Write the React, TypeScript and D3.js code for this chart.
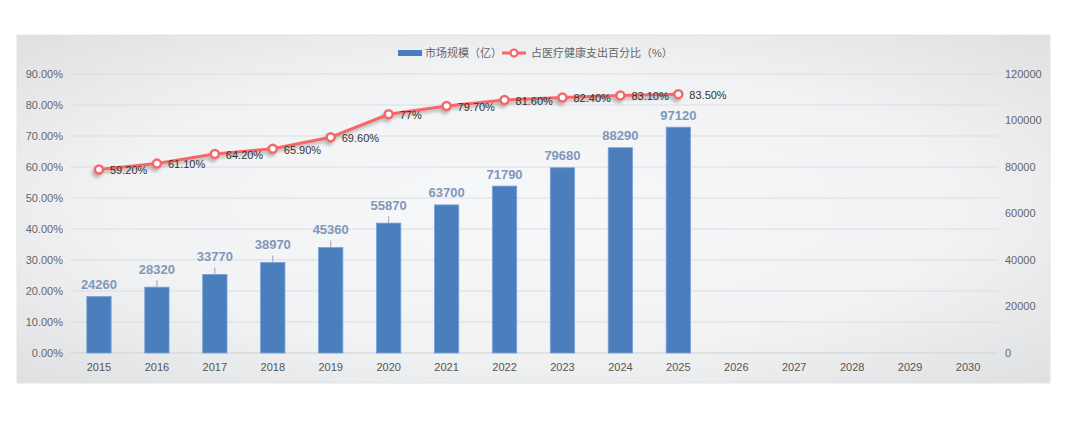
import React from "react";
import * as d3 from "d3";

const years = ["2015","2016","2017","2018","2019","2020","2021","2022","2023","2024","2025","2026","2027","2028","2029","2030"];
const marketSize = [24260, 28320, 33770, 38970, 45360, 55870, 63700, 71790, 79680, 88290, 97120];
const sharePct = [59.2, 61.1, 64.2, 65.9, 69.6, 77, 79.7, 81.6, 82.4, 83.1, 83.5];
const shareLabels = ["59.20%","61.10%","64.20%","65.90%","69.60%","77%","79.70%","81.60%","82.40%","83.10%","83.50%"];
const leftTicks = [0, 10, 20, 30, 40, 50, 60, 70, 80, 90];
const rightTicks = [0, 20000, 40000, 60000, 80000, 100000, 120000];
const leaderYears = ["2016","2017","2018","2019","2020"];
const legendBar = "市场规模（亿）";
const legendLine = "占医疗健康支出百分比（%）";

const FONT = "'Liberation Sans', Arial, 'Noto Sans CJK SC', sans-serif";

export default function App() {
  const W = 1080, H = 425;
  const left = 70, right = 997, top = 74, bottom = 353;
  const x = d3.scaleBand<string>().domain(years).range([left, right]).padding(0);
  const cx = (y: string) => (x(y) as number) + x.bandwidth() / 2;
  const yL = d3.scaleLinear().domain([0, 90]).range([bottom, top]);
  const yR = d3.scaleLinear().domain([0, 120000]).range([bottom, top]);
  const barW = x.bandwidth() * 0.42;
  const lineGen = d3.line<number>()
    .x((_, i) => cx(years[i]))
    .y((d) => yL(d));
  const red = "#f4686a";
  const blue = "#4a7ebd";

  return (
    <svg width={W} height={H} style={{ position: "absolute", left: 0, top: 0, fontFamily: FONT }}>
      <defs>
        <radialGradient id="bg" cx="50%" cy="50%" r="75%">
          <stop offset="0%" stopColor="#f7f8fa" />
          <stop offset="55%" stopColor="#f1f2f4" />
          <stop offset="100%" stopColor="#dcdddf" />
        </radialGradient>
        <filter id="shadow" x="-10%" y="-50%" width="120%" height="200%">
          <feDropShadow dx={-2} dy={3} stdDeviation={1.5} floodColor="#888" floodOpacity={0.55} />
        </filter>
      </defs>
      <rect x={0} y={0} width={W} height={H} fill="#ffffff" />
      <rect x={17} y={35} width={1033} height={348} fill="url(#bg)" stroke="#e4e4e6" strokeWidth={1} />

      {/* gridlines */}
      {leftTicks.map((t) => (
        <line key={"g" + t} x1={left} x2={right + 1} y1={yL(t)} y2={yL(t)}
          stroke={t === 0 ? "#cfd0d2" : "#dcdde0"} strokeWidth={1} />
      ))}

      {/* left axis labels */}
      {leftTicks.map((t) => (
        <text key={"l" + t} x={63} y={yL(t)} dy="0.35em" textAnchor="end" fontSize={11} fill="#666">
          {t.toFixed(2) + "%"}
        </text>
      ))}
      {/* right axis labels */}
      {rightTicks.map((t) => (
        <text key={"r" + t} x={1005} y={yR(t)} dy="0.35em" textAnchor="start" fontSize={11} fill="#666">
          {String(t)}
        </text>
      ))}
      {/* x axis labels */}
      {years.map((yv) => (
        <text key={"x" + yv} x={cx(yv)} y={367} dy="0.35em" textAnchor="middle" fontSize={11} fill="#555">
          {yv}
        </text>
      ))}

      {/* bars */}
      {marketSize.map((v, i) => {
        const yv = years[i];
        const yt = yR(v);
        return (
          <g key={"b" + yv}>
            <rect x={cx(yv) - barW / 2} y={yt} width={barW} height={bottom - yt}
              fill={blue} stroke="#7aa2d6" strokeWidth={0.8} />
            {leaderYears.includes(yv) && (
              <line x1={cx(yv)} x2={cx(yv)} y1={yt} y2={yt - 7} stroke="#9aa6b8" strokeWidth={1} />
            )}
            <text x={cx(yv)} y={yt - (leaderYears.includes(yv) ? 18 : 12)} dy="0.35em" textAnchor="middle"
              fontSize={13} fontWeight="bold" fill="#8197bb">
              {String(v)}
            </text>
          </g>
        );
      })}

      {/* line */}
      <g filter="url(#shadow)">
        <path d={lineGen(sharePct) || ""} fill="none" stroke={red} strokeWidth={3} />
        {sharePct.map((v, i) => (
          <circle key={"c" + i} cx={cx(years[i])} cy={yL(v)} r={4} fill="#fff" stroke={red} strokeWidth={2.5} />
        ))}
      </g>
      {sharePct.map((v, i) => (
        <text key={"t" + i} x={cx(years[i]) + 11} y={yL(v) + 1} dy="0.35em" textAnchor="start"
          fontSize={11} fill="#333">
          {shareLabels[i]}
        </text>
      ))}

      {/* legend */}
      <rect x={398} y={50} width={24} height={6} fill={blue} />
      <text x={425} y={53} dy="0.35em" fontSize={11} fill="#666">{legendBar}</text>
      <line x1={502} x2={526} y1={53} y2={53} stroke={red} strokeWidth={3} />
      <circle cx={514} cy={53} r={3.5} fill="#fff" stroke={red} strokeWidth={2.2} />
      <text x={531} y={53} dy="0.35em" fontSize={11} fill="#666">{legendLine}</text>
    </svg>
  );
}
